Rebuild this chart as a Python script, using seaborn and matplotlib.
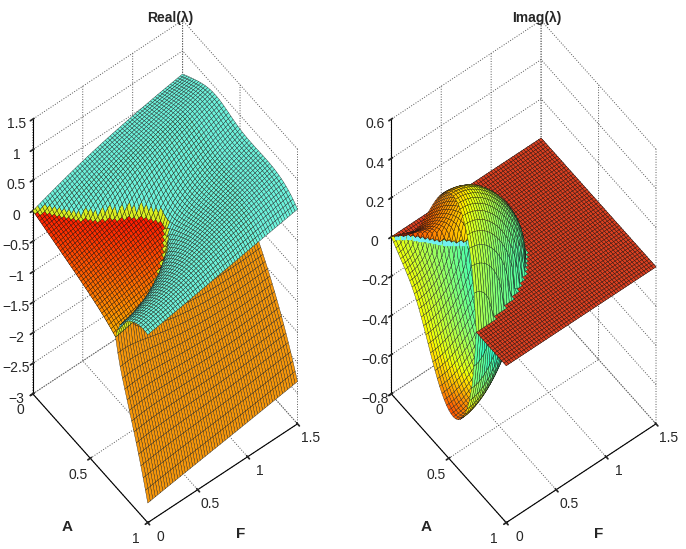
import numpy as np
import matplotlib
matplotlib.use("Agg")
import matplotlib.pyplot as plt
import seaborn as sns
from matplotlib.ticker import FuncFormatter, NullFormatter

sns.set_theme(style="white")
plt.rcParams["font.family"] = ["Liberation Sans", "DejaVu Sans"]
plt.rcParams["grid.linestyle"] = ":"
plt.rcParams["grid.color"] = "#555555"
plt.rcParams["grid.linewidth"] = 0.7

# parameter grid (A along x, F along y)
A_vals = np.linspace(0.0, 1.0, 51)
F_vals = np.linspace(0.0, 1.5, 61)

# 2x2 system: eigenvalues are roots of  lam^2 - 2 p lam + (p^2 - q) = 0
# half trace  p = c0*A + c1*A^6 + (c2 + c3*A^2)*F + c4*A*(1-A)^2*F
half_trace_coef = [-0.634, -0.666, 0.20, 0.07, 1.3]
# discriminant q = A^2 (A - a_crit) g(A) + beta(A) F^2 / (1 + F^2)
a_crit = 0.73
g_coef = [0.8, 6.4, 0.4]          # g = g0 + g1*A^4/(A^4 + g2^4)
beta_coef = [0.15, 3.74, -3.76]   # beta = b0 + b1*A^2 + b2*A^4

real_zticks = [-3, -2.5, -2, -1.5, -1, -0.5, 0, 0.5, 1, 1.5]
imag_zticks = [-0.8, -0.6, -0.4, -0.2, 0, 0.2, 0.4, 0.6]
a_ticks = [0, 0.5, 1]
f_ticks = [0, 0.5, 1, 1.5]

AA, FF = np.meshgrid(A_vals, F_vals)
c0, c1, c2, c3, c4 = half_trace_coef
p = c0 * AA + c1 * AA**6 + (c2 + c3 * AA**2) * FF + c4 * AA * (1 - AA)**2 * FF
g = g_coef[0] + g_coef[1] * AA**4 / (AA**4 + g_coef[2]**4)
q0 = AA**2 * (AA - a_crit) * g
beta = beta_coef[0] + beta_coef[1] * AA**2 + beta_coef[2] * AA**4
q = q0 + beta * FF**2 / (1 + FF**2)

root = np.sqrt(q.astype(complex))
lam1 = p + root
lam2 = p - root
cplx = q < 0

# edge of the complex region (q = 0) along the A grid
a_line = A_vals[(A_vals > 0) & (A_vals < a_crit)]
g_line = g_coef[0] + g_coef[1] * a_line**4 / (a_line**4 + g_coef[2]**4)
r_line = -(a_line**2 * (a_line - a_crit) * g_line) / (
    beta_coef[0] + beta_coef[1] * a_line**2 + beta_coef[2] * a_line**4)
f_line = np.sqrt(r_line / (1 - r_line))


def per_cell(mask):
    # state of each mesh cell: 2 = all corners complex, 1 = mixed, 0 = real
    corners = mask[:-1, :-1].astype(int) + mask[1:, :-1] + mask[:-1, 1:] + mask[1:, 1:]
    state = np.where(corners == 4, 2, np.where(corners > 0, 1, 0))
    return np.pad(state, ((0, 1), (0, 1)), mode="edge")


cell = per_cell(cplx)
inside = (cell == 2)[..., None]
edge = (cell == 1)[..., None]
touched = (cell > 0)[..., None]

jet = plt.get_cmap("jet")
cyan = np.array(matplotlib.colors.to_rgba("#6cf3dc"))
orange = np.array(matplotlib.colors.to_rgba("#f5960a"))
red = np.array(matplotlib.colors.to_rgba("#dc4020"))
yellow = np.array(matplotlib.colors.to_rgba("#d8f020"))

# colours for the real part
grad = jet(np.clip(0.88 + 0.30 * p, 0.68, 0.9))
col_up = np.where(inside, grad, np.where(edge, yellow, cyan))
col_lo = np.where(inside, grad, orange)

# colours for the imaginary part
a_rel = AA / a_crit
depth = np.clip(np.abs(lam1.imag) / 0.55, 0, 1)
v_up = np.clip(0.86 - 0.30 * a_rel**2 - 0.35 * FF, 0.45, 0.9)
v_lo = np.clip(0.64 - 0.45 * FF + 0.20 * depth**4 - 0.20 * a_rel**6, 0.38, 0.9)
col_iu = np.where(touched, jet(v_up), red)
col_il = np.where(touched, jet(v_lo), red)


def fmt(v, pos):
    s = "{:g}".format(round(v, 3))
    return s.replace("-", "\u2212")


def style_axes(ax, zticks, zlim):
    ax.set_proj_type("ortho")
    ax.view_init(elev=59.3, azim=-37.5)
    ax.set_box_aspect((1, 1, 2.85), zoom=1.7)
    ax.set_xlim(0, 1)
    ax.set_ylim(0, 1.5)
    ax.set_zlim(*zlim)
    ax.set_xticks(a_ticks)
    ax.set_yticks(f_ticks)
    ax.set_zticks(zticks)
    for axis in (ax.xaxis, ax.yaxis, ax.zaxis):
        axis.set_pane_color((1, 1, 1, 0))
        axis.pane.set_edgecolor((1, 1, 1, 0))
        axis.line.set_color("black")
        axis.line.set_linewidth(0.8)
    ax.zaxis.set_major_formatter(FuncFormatter(fmt))
    ax.xaxis.set_major_formatter(NullFormatter())
    ax.yaxis.set_major_formatter(NullFormatter())
    ax.zaxis.set_ticks_position("lower")
    ax.tick_params(labelsize=10)
    ax.zaxis.set_tick_params(pad=0)
    # A and F tick labels are placed by hand below
    ax.xaxis.set_tick_params(labelbottom=False, labeltop=False)
    ax.yaxis.set_tick_params(labelleft=False, labelright=False)
    ax.xaxis.label.set_visible(False)
    ax.yaxis.label.set_visible(False)
    ax.zaxis.label.set_visible(False)
    ax.grid(True)
    zmin = zlim[0]
    for a in a_ticks:
        ax.text(a + 0.04, -0.17, zmin, fmt(a, None), ha="center", va="center",
                fontsize=10, clip_on=False)
    for f in f_ticks:
        ax.text(1.11, f, zmin, fmt(f, None), ha="center", va="center",
                fontsize=10, clip_on=False)
    ax.text(0.76, -0.53, zmin, "A", ha="center", va="center",
            fontsize=11, fontweight="bold", clip_on=False)
    ax.text(1.355, 0.52, zmin, "F", ha="center", va="center",
            fontsize=11, fontweight="bold", clip_on=False)


def add_surface(ax, z, colors, order):
    surf = ax.plot_surface(AA, FF, z, facecolors=colors, edgecolor="#151515",
                           linewidth=0.25, shade=False, rstride=1, cstride=1,
                           zorder=order)
    surf.set_clip_on(False)


fig = plt.figure(figsize=(6.86, 5.49), dpi=100)

ax1 = fig.add_axes([-0.016, -0.003, 0.5, 1.0], projection="3d")
ax1.computed_zorder = False
add_surface(ax1, lam2.real, col_lo, 1)
add_surface(ax1, lam1.real, col_up, 2)
style_axes(ax1, real_zticks, (-3, 1.5))

ax2 = fig.add_axes([0.5066, -0.003, 0.5, 1.0], projection="3d")
ax2.computed_zorder = False
add_surface(ax2, lam2.imag, col_il, 1)
edge_line, = ax2.plot(a_line, f_line, np.zeros_like(a_line), linestyle="none",
                      marker="s", markersize=2.2, color="#70f0f0", zorder=1.5)
edge_line.set_clip_on(False)
add_surface(ax2, lam1.imag, col_iu, 2)
style_axes(ax2, imag_zticks, (-0.8, 0.6))

fig.text(0.248, 0.967, "Real(\u03bb)", ha="center", va="center",
         fontweight="bold", fontsize=10)
fig.text(0.783, 0.967, "Imag(\u03bb)", ha="center", va="center",
         fontweight="bold", fontsize=10)

fig.savefig("out.png", dpi=100)
